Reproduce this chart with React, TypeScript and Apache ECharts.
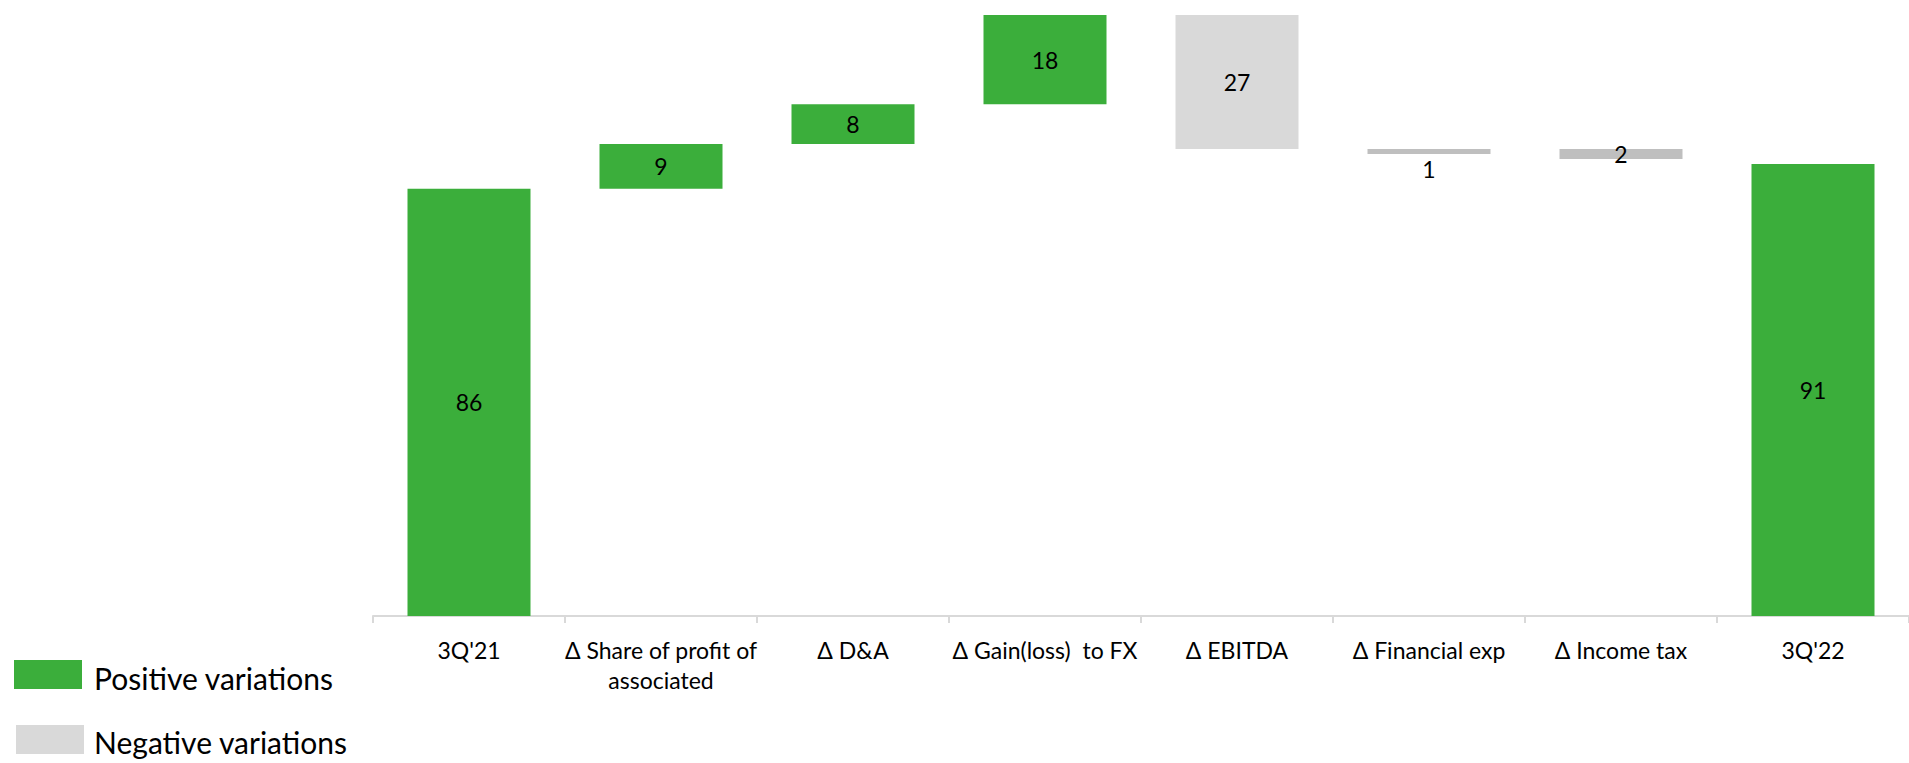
import React, { useEffect, useRef } from "react";
import * as echarts from "echarts";

const categories = [
  "3Q'21",
  "Δ Share of profit of\nassociated",
  "Δ D&A",
  "Δ Gain(loss)  to FX",
  "Δ EBITDA",
  "Δ Financial exp",
  "Δ Income tax",
  "3Q'22",
];
// invisible floor under each bar
const floors = [0, 86, 95, 103, 94, 93, 92, 0];
// visible bar heights
const amounts = [86, 9, 8, 18, 27, 1, 2, 91];
// displayed labels
const valueLabels = ["86", "9", "8", "18", "27", "1", "2", "91"];
// kind of each bar
const kinds = ["pos", "pos", "pos", "pos", "neg", "negSmall", "negSmall", "pos"];
const labelPlacement = ["inside", "inside", "inside", "inside", "inside", "bottom", "inside", "inside"];

const legendItems = ["Positive variations", "Negative variations"];

const GREEN = "#3BAE3B";
const LIGHT_GREY = "#D9D9D9";
const MID_GREY = "#BFBFBF";
const FONT = "Lato";

export default function App() {
  const ref = useRef<HTMLDivElement>(null);
  useEffect(() => {
    if (!ref.current) return;
    const chart = echarts.init(ref.current, undefined, { renderer: "svg" });
    const colorOf = (k: string) => (k === "pos" ? GREEN : k === "neg" ? LIGHT_GREY : MID_GREY);
    chart.setOption({
      animation: false,
      grid: { left: 373, right: -3, top: 0, bottom: 147, containLabel: false },
      xAxis: {
        type: "category",
        data: categories,
        axisLine: { lineStyle: { color: "#D9D9D9", width: 2 } },
        axisTick: { show: true, length: 7, lineStyle: { color: "#D9D9D9", width: 2 } },
        axisLabel: {
          interval: 0,
          color: "#000",
          fontFamily: FONT,
          fontSize: 23,
          lineHeight: 30,
          margin: 19,
        },
      },
      yAxis: {
        type: "value",
        min: 0,
        max: 124,
        show: false,
        splitLine: { show: false },
      },
      series: [
        {
          type: "bar",
          stack: "w",
          data: floors,
          itemStyle: { color: "transparent" },
          barWidth: 123,
          silent: true,
          label: { show: false },
        },
        {
          type: "bar",
          stack: "w",
          barWidth: 123,
          data: amounts.map((v, i) => ({
            value: v,
            itemStyle: { color: colorOf(kinds[i]) },
            label: {
              show: true,
              position: labelPlacement[i],
              distance: 3,
              formatter: () => valueLabels[i],
              color: "#000",
              fontFamily: FONT,
              fontSize: 23,
            },
          })),
        },
      ],
      graphic: [
        { type: "rect", shape: { x: 14, y: 660, width: 68, height: 29 }, style: { fill: GREEN } },
        {
          type: "text",
          x: 94,
          y: 678,
          style: { text: legendItems[0], fill: "#000", font: `30px ${FONT}`, verticalAlign: "middle" },
        },
        { type: "rect", shape: { x: 16, y: 725, width: 68, height: 29 }, style: { fill: LIGHT_GREY } },
        {
          type: "text",
          x: 94,
          y: 742,
          style: { text: legendItems[1], fill: "#000", font: `30px ${FONT}`, verticalAlign: "middle" },
        },
      ],
    });
    return () => chart.dispose();
  }, []);
  return (
    <div
      ref={ref}
      style={{ position: "absolute", left: 0, top: 0, width: 1909, height: 763 }}
    />
  );
}
